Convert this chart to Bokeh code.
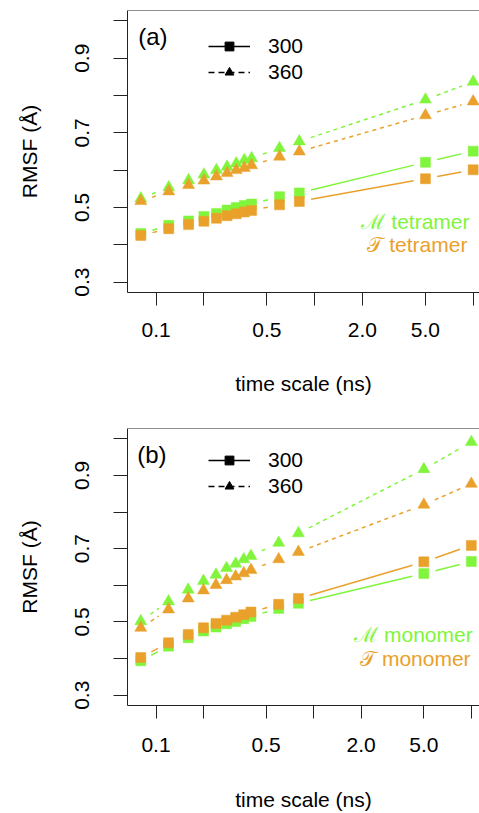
import numpy as np
from bokeh.plotting import figure
from bokeh.models import (Range1d, FixedTicker, NumeralTickFormatter, Span, Label,
                          Legend, LegendItem, ColumnDataSource)
from bokeh.layouts import column
from bokeh.embed import file_html
from bokeh.resources import INLINE

# ---------------- data ----------------
time_ns = [0.08, 0.12, 0.16, 0.2, 0.24, 0.28, 0.32, 0.36, 0.4, 0.6, 0.8, 5.0, 10.0]

# (a) tetramer
tet_M_300 = [0.430, 0.452, 0.464, 0.476, 0.484, 0.493, 0.500, 0.505, 0.509, 0.529, 0.539, 0.621, 0.651]
tet_T_300 = [0.425, 0.443, 0.454, 0.463, 0.471, 0.478, 0.483, 0.488, 0.492, 0.507, 0.516, 0.577, 0.601]
tet_M_360 = [0.524, 0.554, 0.573, 0.588, 0.600, 0.609, 0.618, 0.627, 0.632, 0.659, 0.677, 0.789, 0.837]
tet_T_360 = [0.517, 0.543, 0.560, 0.572, 0.583, 0.592, 0.600, 0.606, 0.613, 0.636, 0.650, 0.747, 0.784]

# (b) monomer
mon_M_300 = [0.394, 0.434, 0.457, 0.475, 0.486, 0.495, 0.501, 0.509, 0.515, 0.537, 0.551, 0.632, 0.665]
mon_T_300 = [0.403, 0.443, 0.466, 0.484, 0.496, 0.505, 0.513, 0.520, 0.527, 0.548, 0.564, 0.664, 0.709]
mon_M_360 = [0.502, 0.556, 0.588, 0.612, 0.629, 0.647, 0.659, 0.671, 0.680, 0.716, 0.742, 0.917, 0.991]
mon_T_360 = [0.484, 0.534, 0.564, 0.586, 0.601, 0.614, 0.624, 0.633, 0.642, 0.671, 0.691, 0.820, 0.877]

x_ticks = [0.1, 0.5, 2.0, 5.0]
x_tick_labels = ["0.1", "0.5", "2.0", "5.0"]
x_minor_ticks = [0.2, 1.0, 10.0]
y_ticks = [0.3, 0.5, 0.7, 0.9]
y_tick_labels = ["0.3", "0.5", "0.7", "0.9"]
y_minor_ticks = [0.4, 0.6, 0.8, 1.0]

temps = ["300", "360"]
panel_tags = ["(a)", "(b)"]
group_M = ["\u2133 tetramer", "\u2133 monomer"]
group_T = ["\U0001D4AF tetramer", "\U0001D4AF monomer"]

# ---------------- style ----------------
GREEN = "#80F53C"
ORANGE = "#E9A12B"
INK = "#222222"
FONT = "Liberation Sans"
FS = "21px"
W = 479
FRAME_H = 282
Y0, Y1 = 0.272, 1.028
GAP = 12.0


def gapped_segments(xv, yv, xr, yr, fw, fh, gap=GAP):
    lx = np.log10(np.asarray(xv, float))
    yy = np.asarray(yv, float)
    lx0, lx1 = np.log10(xr.start), np.log10(xr.end)
    kx = fw / (lx1 - lx0)
    ky = fh / (yr.end - yr.start)
    px = (lx - lx0) * kx
    py = (yy - yr.start) * ky
    out = dict(x0=[], y0=[], x1=[], y1=[])
    for i in range(len(px) - 1):
        dx = px[i + 1] - px[i]
        dy = py[i + 1] - py[i]
        d = np.hypot(dx, dy)
        if d <= 2 * gap:
            continue
        f = gap / d
        ax, ay = px[i] + f * dx, py[i] + f * dy
        bx, by = px[i + 1] - f * dx, py[i + 1] - f * dy
        out["x0"].append(10 ** (ax / kx + lx0))
        out["y0"].append(ay / ky + yr.start)
        out["x1"].append(10 ** (bx / kx + lx0))
        out["y1"].append(by / ky + yr.start)
    return ColumnDataSource(out)


def make_panel(height, border_left, border_top, border_bottom, x_end_log,
               M300, T300, M360, T360, tag, labM, labT,
               tag_xy, labM_xy, labT_xy, legend_loc, xtick_standoff, xlab_standoff):
    fw = W - border_left
    xr = Range1d(10 ** -1.181, 10 ** x_end_log)
    yr = Range1d(Y0, Y1)
    p = figure(width=W, height=height, x_axis_type="log", x_range=xr, y_range=yr,
               output_backend="svg", toolbar_location=None,
               min_border_left=border_left, min_border_right=0,
               min_border_top=border_top, min_border_bottom=border_bottom,
               background_fill_color="white", border_fill_color="white")
    p.outline_line_color = None
    p.grid.visible = False

    # axes
    p.xaxis.ticker = FixedTicker(ticks=x_ticks, minor_ticks=x_minor_ticks)
    p.xaxis.formatter = NumeralTickFormatter(format="0.0")
    p.xaxis.major_label_overrides = dict(zip(x_ticks, x_tick_labels))
    p.yaxis.ticker = FixedTicker(ticks=y_ticks, minor_ticks=y_minor_ticks)
    p.yaxis.formatter = NumeralTickFormatter(format="0.0")
    p.yaxis.major_label_overrides = dict(zip(y_ticks, y_tick_labels))
    p.yaxis.major_label_orientation = "vertical"
    p.xaxis.axis_label = "time scale (ns)"
    p.yaxis.axis_label = "RMSF (\u00C5)"
    for ax, tl in ((p.xaxis, 13), (p.yaxis, 14)):
        ax.axis_line_color = INK
        ax.axis_line_width = 1
        ax.major_tick_line_color = INK
        ax.minor_tick_line_color = INK
        ax.major_tick_out = tl
        ax.major_tick_in = 0
        ax.minor_tick_out = tl
        ax.minor_tick_in = 0
        ax.major_label_text_font = FONT
        ax.major_label_text_font_size = FS
        ax.major_label_text_color = "black"
        ax.axis_label_text_font = FONT
        ax.axis_label_text_font_size = FS
        ax.axis_label_text_font_style = "normal"
        ax.axis_label_text_color = "black"
    p.xaxis.major_label_standoff = xtick_standoff
    p.xaxis.axis_label_standoff = xlab_standoff
    p.yaxis.major_label_standoff = 24
    p.yaxis.axis_label_standoff = 32
    p.add_layout(Span(location=Y1, dimension="width", line_color=INK, line_width=1))

    # data: lines with gaps (R type="b"), then markers
    series = [(M300, GREEN, "solid", "square", 10), (T300, ORANGE, "solid", "square", 10),
              (M360, GREEN, "4 4", "triangle", 12), (T360, ORANGE, "4 4", "triangle", 12)]
    for ys, col, dash, mk, sz in series:
        src = gapped_segments(time_ns, ys, xr, yr, fw, FRAME_H)
        p.segment(x0="x0", y0="y0", x1="x1", y1="y1", source=src,
                  line_color=col, line_width=1.5, line_dash=dash)
    for ys, col, dash, mk, sz in series:
        p.scatter(time_ns, ys, marker=mk, size=sz, fill_color=col, line_color=col, line_width=0.5)

    # legend (black samples; renderers hold no visible point)
    nan = [np.nan]
    l1 = p.line(x=nan, y=nan, line_color="black", line_width=1.5)
    s1 = p.scatter(x=nan, y=nan, marker="square", fill_color="black", line_color="black")
    l2 = p.line(x=nan, y=nan, line_color="black", line_width=1.5, line_dash="6 4")
    s2 = p.scatter(x=nan, y=nan, marker="triangle", fill_color="black", line_color="black")
    leg = Legend(items=[LegendItem(label=temps[0], renderers=[l1, s1]),
                        LegendItem(label=temps[1], renderers=[l2, s2])],
                 location=legend_loc, orientation="vertical",
                 glyph_width=42, glyph_height=22, label_height=20, spacing=2,
                 padding=0, margin=0, label_standoff=18,
                 label_text_font=FONT, label_text_font_size=FS, label_text_color="black",
                 background_fill_alpha=0, border_line_color=None)
    p.add_layout(leg)

    p.add_layout(Label(x=tag_xy[0], y=tag_xy[1], text=tag, text_font=FONT,
                       text_font_size="24px", text_baseline="middle", text_align="left",
                       text_color="black"))
    p.add_layout(Label(x=labM_xy[0], y=labM_xy[1], text=labM, text_font=FONT,
                       text_font_size=FS, text_baseline="middle", text_align="right",
                       text_color=GREEN))
    p.add_layout(Label(x=labT_xy[0], y=labT_xy[1], text=labT, text_font=FONT,
                       text_font_size=FS, text_baseline="middle", text_align="right",
                       text_color=ORANGE))
    return p


p1 = make_panel(418, 127, 10, 126, 1.040,
                tet_M_300, tet_T_300, tet_M_360, tet_T_360,
                panel_tags[0], group_M[0], group_T[0],
                (0.077, 0.958), (9.48, 0.462), (9.2, 0.401), (81, 208), 17, 32)
p2 = make_panel(395, 125, 10, 103, 1.052,
                mon_M_300, mon_T_300, mon_M_360, mon_T_360,
                panel_tags[1], group_M[1], group_T[1],
                (0.076, 0.958), (10.2, 0.465), (9.9, 0.401), (81, 207), 19, 33)

layout = column(p1, p2, spacing=0)
open("out.html", "w").write(file_html(layout, INLINE))
